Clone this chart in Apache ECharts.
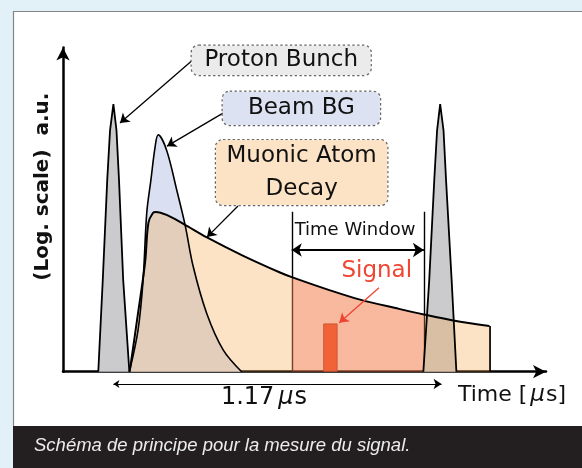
<!DOCTYPE html>
<html>
<head>
<meta charset="utf-8">
<script src="https://cdn.jsdelivr.net/npm/echarts@6/dist/echarts.min.js"></script>
<style>
html,body{margin:0;padding:0;background:#E2F0F8;}
#c{width:582px;height:468px;}
</style>
</head>
<body>
<div id="c"></div>
<script>
// ---------- data: time in ns, intensity in arbitrary (log-scale) units ----------
const protonBunch1 = [[126,0],[142,27.7],[158,58],[168,73],[180,80.9],[191,73],[200,58],[215,27.7],[237,0]];
const protonBunch2 = [[1287,0],[1308,27.7],[1326,58],[1336,73],[1347,80.9],[1359,73],[1368,58],[1388,27.7],[1405,0]];
const beamBG = [[237,0],[268,12.6],[286,27.7],[299,47.9],[314,58],[329,68],[340,71.6],[370,67],[406,55],[436,44.4],[465,31.8],[513,17.7],[572,6.6],[638,0]];
const muonicDecay = [[238,0],[268,17.7],[293,32.9],[305,45],[321,48],[332,48.3],[370,47.4],[430,44.7],[514,40.6],[640,35.2],[775,30.0],[817,28.6],[954,24.6],[1061,21.8],[1200,19.0],[1289,17.3],[1394,15.5],[1523,13.8]];
const timeWindow = [817, 1289];
const timeWindowTop = 48.4;
const signalBar = [[955, 14.6]];
const bunchPeaks = [180, 1352];           // 1.17 µs apart
const xAxisName = 'Time [{mu|μ}s]';
const yAxisName = '(Log. scale)  a.u.';
const periodLabel = '1.17{mu|μ}s';
const captionText = 'Schéma de principe pour la mesure du signal.';

// ---------- layout / scale config ----------
const PX_PER_NS = 0.28, PX_PER_AU = 3.307;
const ORIGIN = [63, 371.7];
const X_MAX = 1725, Y_MAX = 98;
const PANEL = {left: 13, top: 11, right: 582, bottom: 426};
const ovX = [(PANEL.left - ORIGIN[0]) / PX_PER_NS, (PANEL.right - ORIGIN[0]) / PX_PER_NS];
const ovY = [(ORIGIN[1] - PANEL.bottom) / PX_PER_AU, (ORIGIN[1] - PANEL.top) / PX_PER_AU];

const FONT = 'DejaVu Sans';
const PEACH = 'rgba(248,162,62,0.3)';
const SALMON = 'rgba(242,120,70,0.52)';

// annotation placement (data units)
const boxes = [
  {pos: [779.3, 94.15], text: 'Proton Bunch', bg: '#EBEBEB', w: 179, h: 29.3, lh: 29.3},
  {pos: [851.3, 79.6], text: 'Beam BG', bg: '#DCE2F2', w: 157.3, h: 33.3, lh: 33.3},
  {pos: [852.3, 60.2], text: 'Muonic Atom\nDecay', bg: '#FDE3C6', w: 171.3, h: 65, lh: 32.5}
];
const pointers = [
  {from: [464.3, 94.3], to: [203.6, 75.2]},
  {from: [571.4, 78.2], to: [371.4, 68.2]},
  {from: [625, 50.1], to: [514.3, 40.7]}
];
const signalPointer = {from: [1128.6, 25.4], to: [986.8, 14.8]};

const muRich = {mu: {fontFamily: FONT, fontStyle: 'italic', fontSize: 23, color: '#111', padding: [0, 1, 0, 3]}};

const chart = echarts.init(document.getElementById('c'));
const lastDecay = muonicDecay[muonicDecay.length - 1];

const option = {
  backgroundColor: '#E2F0F8',
  animation: false,
  title: {
    text: captionText, left: 34, top: 436, padding: 0,
    textStyle: {fontFamily: 'Liberation Sans', fontStyle: 'italic', fontWeight: 'normal', fontSize: 18.5, color: '#ECECEC'}
  },
  graphic: [
    {type: 'polyline', shape: {points: [[PANEL.left + 0.5, PANEL.bottom], [PANEL.left + 0.5, PANEL.top + 0.5], [PANEL.right, PANEL.top + 0.5]]},
     style: {stroke: '#858585', lineWidth: 1.2, fill: null}},
    {type: 'rect', left: 13, top: 426, shape: {width: 569, height: 42}, style: {fill: '#231F20'}}
  ],
  grid: [
    {left: ORIGIN[0], top: ORIGIN[1] - Y_MAX * PX_PER_AU, width: X_MAX * PX_PER_NS, height: Y_MAX * PX_PER_AU, show: false},
    {left: PANEL.left, top: PANEL.top, width: PANEL.right - PANEL.left, height: PANEL.bottom - PANEL.top,
     show: true, backgroundColor: '#FFFFFF', borderWidth: 0, z: -1}
  ],
  xAxis: [
    {gridIndex: 0, type: 'value', min: 0, max: X_MAX,
     axisLine: {show: true, onZero: false, symbol: ['none', 'arrow'], symbolSize: [10, 13], lineStyle: {color: '#000', width: 2.5}},
     axisTick: {show: false}, axisLabel: {show: false}, splitLine: {show: false},
     name: xAxisName, nameLocation: 'end', nameGap: 20,
     nameTextStyle: {fontFamily: FONT, fontSize: 22, color: '#111', align: 'right', verticalAlign: 'top', padding: [12, 0, 0, 0], rich: muRich}},
    {gridIndex: 1, type: 'value', min: ovX[0], max: ovX[1], show: false}
  ],
  yAxis: [
    {gridIndex: 0, type: 'value', min: 0, max: Y_MAX,
     axisLine: {show: true, onZero: false, symbol: ['none', 'arrow'], symbolSize: [10, 13], lineStyle: {color: '#000', width: 2.5}},
     axisTick: {show: false}, axisLabel: {show: false}, splitLine: {show: false},
     name: yAxisName, nameLocation: 'middle', nameRotate: 90, nameGap: 10,
     nameTextStyle: {fontFamily: FONT, fontWeight: 'bold', fontSize: 20, color: '#111', padding: [0, 0, 0, 46]}},
    {gridIndex: 1, type: 'value', min: ovY[0], max: ovY[1], show: false}
  ],
  visualMap: {
    type: 'piecewise', show: false, seriesIndex: 3, dimension: 0,
    pieces: [
      {lt: timeWindow[0], color: PEACH},
      {gte: timeWindow[0], lte: timeWindow[1], color: SALMON},
      {gt: timeWindow[1], color: PEACH}
    ]
  },
  series: [
    {name: 'Proton Bunch', type: 'line', xAxisIndex: 0, yAxisIndex: 0, data: protonBunch1, showSymbol: false, silent: true,
     lineStyle: {color: '#000', width: 1.8}, areaStyle: {color: '#CBCBCE', opacity: 1}},
    {name: 'Proton Bunch 2', type: 'line', xAxisIndex: 0, yAxisIndex: 0, data: protonBunch2, showSymbol: false, silent: true,
     lineStyle: {color: '#000', width: 1.8}, areaStyle: {color: '#CBCBCE', opacity: 1}},
    {name: 'Beam BG', type: 'line', xAxisIndex: 0, yAxisIndex: 0, data: beamBG, smooth: 0.35, showSymbol: false, silent: true,
     lineStyle: {color: '#000', width: 1.6}, areaStyle: {color: '#DAE0F1', opacity: 1}},
    {name: 'Muonic Atom Decay', type: 'line', xAxisIndex: 0, yAxisIndex: 0, data: muonicDecay, smooth: 0.35, showSymbol: false, silent: true,
     lineStyle: {color: '#000', width: 2}, areaStyle: {opacity: 1}},
    {name: 'edges', type: 'lines', coordinateSystem: 'cartesian2d', xAxisIndex: 0, yAxisIndex: 0, silent: true, symbol: 'none',
     data: [
       {coords: [[lastDecay[0], 0], [lastDecay[0], lastDecay[1]]], lineStyle: {color: '#000', width: 1.8, opacity: 1}},
       {coords: [[timeWindow[0], 0], [timeWindow[0], timeWindowTop]], lineStyle: {color: '#000', width: 1.4, opacity: 1}},
       {coords: [[timeWindow[1], 0], [timeWindow[1], timeWindowTop]], lineStyle: {color: '#000', width: 1.4, opacity: 1}}
     ]},
    {name: 'Signal', type: 'bar', xAxisIndex: 0, yAxisIndex: 0, data: signalBar, barWidth: 14.4, silent: true,
     itemStyle: {color: '#EF4A2B', borderColor: '#9E3A22', borderWidth: 1}},
    {name: 'arrows', type: 'lines', coordinateSystem: 'cartesian2d', xAxisIndex: 1, yAxisIndex: 1, silent: true, z: 5,
     symbol: ['none', 'arrow'], symbolSize: [7, 9],
     data: pointers.map(p => ({coords: [p.from, p.to], lineStyle: {color: '#000', width: 1.3, opacity: 1}}))
       .concat([
         {coords: [signalPointer.from, signalPointer.to], lineStyle: {color: '#EE4433', width: 1.3, opacity: 1}},
         {coords: [[timeWindow[0], 36.8], [timeWindow[1], 36.8]], symbol: ['arrow', 'arrow'], symbolSize: [10, 11], lineStyle: {color: '#000', width: 2, opacity: 1}},
         {coords: [[bunchPeaks[0], -3.72], [bunchPeaks[1], -3.72]], symbol: ['arrow', 'arrow'], symbolSize: [6, 8], lineStyle: {color: '#000', width: 1, opacity: 1}}
       ])},
    {name: 'labels', type: 'scatter', xAxisIndex: 1, yAxisIndex: 1, silent: true, symbolSize: 0, z: 6,
     itemStyle: {opacity: 1},
     data: boxes.map(b => ({
       value: b.pos,
       label: {show: true, position: 'inside', formatter: b.text, fontFamily: FONT, fontSize: 23, color: '#111',
               backgroundColor: b.bg, borderColor: '#666', borderWidth: 1.2, borderType: 'dotted', borderRadius: 7,
               width: b.w, height: b.h, lineHeight: b.lh, align: 'center', verticalAlign: 'middle', padding: 0}
     })).concat([
       {value: [1042.9, 42.85], label: {show: true, position: 'inside', formatter: 'Time Window', fontFamily: FONT, fontSize: 18, color: '#111'}},
       {value: [1120.4, 30.45], label: {show: true, position: 'inside', formatter: 'Signal', fontFamily: FONT, fontSize: 23, color: '#F04530'}},
       {value: [717.9, -7.95], label: {show: true, position: 'inside', formatter: periodLabel, fontFamily: FONT, fontSize: 24, color: '#111', rich: {mu: {fontFamily: FONT, fontStyle: 'italic', fontSize: 24, color: '#111', padding: [0, 1, 0, 4]}}}}
     ])}
  ]
};
chart.setOption(option);
</script>
</body>
</html>
